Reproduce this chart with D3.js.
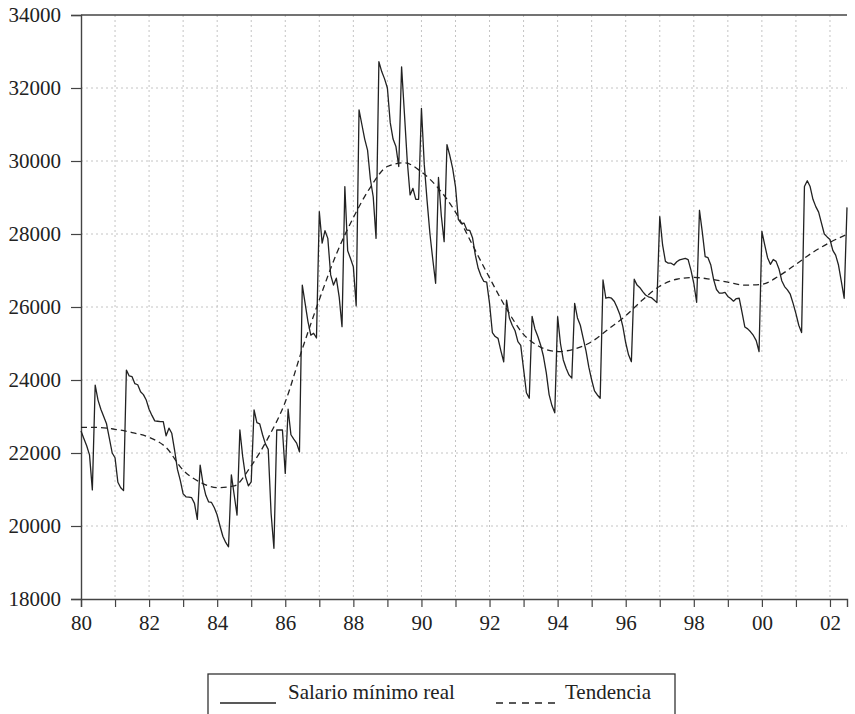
<!DOCTYPE html>
<html>
<head>
<meta charset="utf-8">
<script src="https://cdn.jsdelivr.net/npm/d3@7/dist/d3.min.js"></script>
<style>
  body { margin: 0; background: #fff; }
  svg text { font-family: "Liberation Serif", Tinos, "Times New Roman", "DejaVu Serif", serif !important; fill: #222; }
</style>
</head>
<body>
<div id="vis"></div>
<script>
// monthly real minimum wage, Jan 1980 .. Jul 2002 (one row per year)
const salario = [
  22600, 22400, 22200, 21950, 20990, 23860, 23450, 23200, 23000, 22800, 22400, 22000, // 80
  21870, 21200, 21050, 20970, 24270, 24110, 24090, 23900, 23870, 23680, 23600, 23450, // 81
  23200, 23030, 22880, 22870, 22860, 22860, 22470, 22680, 22540, 22070, 21550, 21250, // 82
  20880, 20800, 20790, 20775, 20620, 20180, 21670, 21170, 20840, 20660, 20645, 20500, // 83
  20300, 20000, 19720, 19550, 19430, 21400, 20850, 20300, 22630, 21900, 21350, 21100, // 84
  21210, 23180, 22830, 22800, 22500, 22250, 22100, 20350, 19390, 22630, 22630, 22630, // 85
  21440, 23200, 22500, 22380, 22270, 22030, 26600, 26100, 25600, 25230, 25280, 25150, // 86
  28610, 27750, 28090, 27880, 26880, 26600, 26790, 26280, 25460, 29300, 27540, 27330, // 87
  27100, 26030, 31400, 31000, 30600, 30300, 29500, 29020, 27880, 32720, 32450, 32250, // 88
  32000, 31050, 30600, 30400, 29850, 32580, 31300, 30000, 29070, 29250, 28950, 28950, // 89
  31440, 29900, 28900, 28000, 27300, 26650, 29550, 28500, 27790, 30450, 30150, 29800, // 90
  29300, 28400, 28290, 28300, 28110, 28100, 27900, 27420, 27060, 26850, 26700, 26680, // 91
  26100, 25300, 25190, 25140, 24800, 24500, 26190, 25700, 25500, 25350, 25050, 24950, // 92
  24300, 23650, 23500, 25740, 25400, 25200, 24960, 24650, 24200, 23600, 23300, 23100, // 93
  25735, 25000, 24550, 24320, 24140, 24050, 26100, 25700, 25500, 25150, 24800, 24350, // 94
  24000, 23700, 23590, 23500, 26740, 26240, 26265, 26240, 26150, 25980, 25780, 25460, // 95
  25020, 24690, 24500, 26760, 26600, 26530, 26420, 26330, 26280, 26260, 26190, 26120, // 96
  28475, 27700, 27250, 27200, 27200, 27150, 27240, 27290, 27310, 27330, 27300, 27010, // 97
  26650, 26130, 28650, 28050, 27380, 27350, 27150, 26750, 26480, 26380, 26380, 26400, // 98
  26290, 26230, 26160, 26230, 26240, 25850, 25450, 25400, 25320, 25220, 25080, 24780, // 99
  28070, 27700, 27350, 27170, 27300, 27250, 27050, 26720, 26560, 26470, 26350, 26100, // 00
  25820, 25500, 25300, 29300, 29460, 29300, 28950, 28750, 28600, 28300, 28000, 27920, // 01
  27850, 27550, 27420, 27150, 26700, 26240, 28730                                      // 02
]

// trend read every six months (month index from Jan 1980)
const trendMonths = [0, 6, 12, 18, 24, 30, 36, 42, 48, 54, 60, 66, 72, 78, 84, 90, 96, 102,
  108, 114, 120, 126, 132, 138, 144, 150, 156, 162, 168, 174, 180, 186, 192, 198, 204, 210,
  216, 222, 228, 234, 240, 246, 252, 258, 264, 270]
const tendencia = [22700, 22700, 22650, 22560, 22430, 22150, 21530, 21200, 21050, 21100,
  21650, 22420, 23400, 24850, 26200, 27450, 28450, 29280, 29850, 29950, 29700, 29250,
  28600, 27700, 26800, 25950, 25250, 24900, 24780, 24850, 25050, 25400, 25760, 26200,
  26570, 26760, 26810, 26760, 26680, 26600, 26620, 26850, 27170, 27500, 27770, 27990]

const yearLabels = ['80', '82', '84', '86', '88', '90', '92', '94', '96', '98', '00', '02']
const yTicks = [18000, 20000, 22000, 24000, 26000, 28000, 30000, 32000, 34000]
const legendLabels = ['Salario mínimo real', 'Tendencia']

const W = 855, H = 714
const plot = {left: 81, right: 847, top: 15, bottom: 599}
const ink = '#222'
const serif = '"Liberation Serif", Tinos, "Times New Roman", "DejaVu Serif", serif'

const svg = d3.select('#vis').append('svg')
  .attr('width', W)
  .attr('height', H)
  .attr('font-family', serif)

const x = d3.scaleLinear().domain([0, salario.length - 1]).range([plot.left, plot.right])
const y = d3.scaleLinear().domain([18000, 34000]).range([plot.bottom, plot.top])

const yearTicks = d3.range(0, salario.length, 12)

// grid
svg.append('g')
  .selectAll('line')
  .data(yearTicks.slice(1))
  .join('line')
    .attr('x1', d => x(d)).attr('x2', d => x(d))
    .attr('y1', plot.top).attr('y2', plot.bottom)
    .attr('stroke', '#c4c4c4')
    .attr('stroke-dasharray', '2,3')

svg.append('g')
  .selectAll('line')
  .data(yTicks.slice(1, -1))
  .join('line')
    .attr('x1', plot.left).attr('x2', plot.right)
    .attr('y1', d => y(d)).attr('y2', d => y(d))
    .attr('stroke', '#c4c4c4')
    .attr('stroke-dasharray', '2,3')

// top frame line
svg.append('line')
  .attr('x1', plot.left).attr('x2', plot.right)
  .attr('y1', plot.top).attr('y2', plot.top)
  .attr('stroke', '#444').attr('stroke-width', 1.4)

// axes
let xAxis = d3.axisBottom(x)
  .tickValues(yearTicks)
  .tickSize(8)
  .tickFormat(d => (d / 12) % 2 === 0 ? yearLabels[d / 24] : '')

svg.append('g')
  .attr('transform', `translate(0,${plot.bottom})`)
  .call(xAxis)
  .attr('font-family', serif)
  .call(g => g.select('.domain').attr('stroke', '#444').attr('stroke-width', 1.4))
  .call(g => g.selectAll('.tick line').attr('stroke', '#444').attr('stroke-width', 1.2))
  .call(g => g.selectAll('.tick text')
      .style('font-size', '21px')
      .attr('fill', ink)
      .attr('dy', '0.95em'))

let yAxis = d3.axisLeft(y)
  .tickValues(yTicks)
  .tickSize(10)
  .tickFormat(d => d)

svg.append('g')
  .attr('transform', `translate(${plot.left},0)`)
  .call(yAxis)
  .attr('font-family', serif)
  .call(g => g.select('.domain').attr('stroke', '#444').attr('stroke-width', 1.4))
  .call(g => g.selectAll('.tick line').attr('stroke', '#444').attr('stroke-width', 1.2))
  .call(g => g.selectAll('.tick text')
      .style('font-size', '21px')
      .attr('fill', ink)
      .attr('x', -20))

// series
const line = d3.line()
  .x((d, i) => x(i))
  .y(d => y(d))

svg.append('path')
  .datum(salario)
  .attr('d', line)
  .attr('fill', 'none')
  .attr('stroke', ink)
  .attr('stroke-width', 1.3)
  .attr('stroke-linejoin', 'round')

const trendLine = d3.line()
  .x((d, i) => x(trendMonths[i]))
  .y(d => y(d))
  .curve(d3.curveMonotoneX)

svg.append('path')
  .datum(tendencia)
  .attr('d', trendLine)
  .attr('fill', 'none')
  .attr('stroke', ink)
  .attr('stroke-width', 1.3)
  .attr('stroke-dasharray', '6,4')

// legend (box runs off the bottom edge)
const legend = svg.append('g')

legend.append('rect')
  .attr('x', 208).attr('y', 674)
  .attr('width', 467).attr('height', 60)
  .attr('fill', 'none')
  .attr('stroke', '#333')
  .attr('stroke-width', 1.3)

legend.append('line')
  .attr('x1', 220).attr('x2', 276)
  .attr('y1', 703).attr('y2', 703)
  .attr('stroke', ink).attr('stroke-width', 1.3)

legend.append('text')
  .attr('x', 288).attr('y', 699)
  .style('font-size', '21px')
  .text(legendLabels[0])

legend.append('line')
  .attr('x1', 496).attr('x2', 558)
  .attr('y1', 703).attr('y2', 703)
  .attr('stroke', ink).attr('stroke-width', 1.3)
  .attr('stroke-dasharray', '7,6')

legend.append('text')
  .attr('x', 565).attr('y', 699)
  .style('font-size', '21px')
  .text(legendLabels[1])
</script>
</body>
</html>
